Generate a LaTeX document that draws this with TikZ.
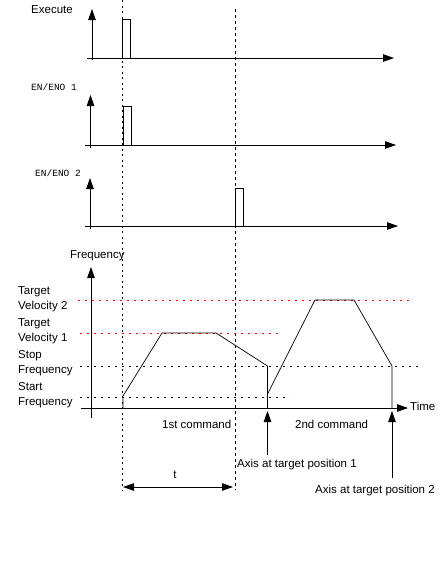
\documentclass[tikz,border=0pt]{standalone}
\usepackage{fontspec}
\setmainfont{Liberation Sans}
\newfontfamily\enofont{Liberation Mono}
\usetikzlibrary{arrows.meta}
\definecolor{axis-ink}{HTML}{000000}
\definecolor{target-red}{HTML}{FF0000}
\tikzset{
  sig-axis/.style={-{Triangle[length=11pt,width=7.5pt]}, line width=0.8pt, draw=axis-ink},
  sig-pulse/.style={line width=0.8pt, draw=axis-ink},
  sig-label/.style={inner sep=0pt, anchor=base west, font=\fontsize{11.5}{15}\selectfont},
  eno-label/.style={inner sep=0pt, anchor=base west, font=\enofont\fontsize{9.5}{11}\selectfont},
  level-label/.style={inner sep=0pt, anchor=north west, align=left, font=\fontsize{11.5}{15}\selectfont},
  guide-dotted/.style={line width=0.7pt, dash pattern=on 2pt off 3.5pt},
  guide-dashed/.style={line width=0.7pt, dash pattern=on 3pt off 3pt},
  level-black/.style={line width=0.7pt, dash pattern=on 2pt off 5pt},
  level-red/.style={line width=0.9pt, dash pattern=on 2pt off 5pt, draw=target-red},
  ramp/.style={line width=0.7pt, line join=miter},
  span-arrow/.style={{Triangle[length=11pt,width=7.5pt]}-{Triangle[length=11pt,width=7.5pt]}, line width=0.8pt}
}

\begin{document}
\begin{tikzpicture}[x=1pt, y=-1pt]
  \useasboundingbox (0,0) rectangle (440,565);

  % command instants
  \coordinate (cmd1-top) at (122,0);
  \coordinate (cmd1-bot) at (122,490);
  \coordinate (cmd2-top) at (235,9);
  \coordinate (cmd2-bot) at (235,490);
  \draw[guide-dotted] (cmd1-top) -- (cmd1-bot);
  \draw[guide-dashed] (cmd2-top) -- (cmd2-bot);

  % Execute
  \node[sig-label] (exec) at (31,13) {Execute};
  \coordinate (exec-o) at (92,60);
  \coordinate (exec-y) at (92,9);
  \coordinate (exec-l) at (87,58);
  \coordinate (exec-r) at (394,58);
  \draw[sig-axis] (exec-o) -- (exec-y);
  \draw[sig-axis] (exec-l) -- (exec-r);
  \draw[sig-pulse] (122,58) |- (130,19) -- (130,58);

  % EN/ENO 1
  \node[eno-label] (eno1) at (31,90) {EN/ENO 1};
  \coordinate (eno1-o) at (90.5,148);
  \coordinate (eno1-y) at (90.5,95);
  \coordinate (eno1-l) at (85,145);
  \coordinate (eno1-r) at (396,145);
  \draw[sig-axis] (eno1-o) -- (eno1-y);
  \draw[sig-axis] (eno1-l) -- (eno1-r);
  \draw[sig-pulse] (123,145) |- (131,106) -- (131,145);

  % EN/ENO 2
  \node[eno-label] (eno2) at (35,176) {EN/ENO 2};
  \coordinate (eno2-o) at (90,229);
  \coordinate (eno2-y) at (90,178);
  \coordinate (eno2-l) at (85,226);
  \coordinate (eno2-r) at (398,226);
  \draw[sig-axis] (eno2-o) -- (eno2-y);
  \draw[sig-axis] (eno2-l) -- (eno2-r);
  \draw[sig-pulse] (235,226) |- (243,188) -- (243,226);

  % Frequency profile
  \node[sig-label] (freq) at (70,258) {Frequency};
  \node[sig-label] (time) at (410,410.5) {Time};
  \coordinate (freq-o) at (91,418);
  \coordinate (freq-y) at (91,267);
  \coordinate (freq-l) at (81,408);
  \coordinate (freq-r) at (408,408);
  \draw[sig-axis] (freq-o) -- (freq-y);
  \draw[sig-axis] (freq-l) -- (freq-r);

  \node[level-label] (tv2)   at (18,286) {Target\\Velocity 2};
  \node[level-label] (tv1)   at (18,318) {Target\\Velocity 1};
  \node[level-label] (stopf) at (18,350) {Stop\\Frequency};
  \node[level-label] (startf) at (18,382) {Start\\Frequency};

  \draw[level-red]   (78,300.5) -- (410,300.5);
  \draw[level-red]   (80,333.5) -- (283,333.5);
  \draw[level-black] (80,366) -- (418,366);
  \draw[level-black] (80,397) -- (290,397);

  \draw[ramp] (123,408) -- (123,396) -- (162,333) -- (216,333)
    -- (267.5,366) -- (267.5,408);
  \draw[ramp] (267.5,394) -- (315,300) -- (354,300) -- (392,366) -- (392,408);

  \node[sig-label] (cmd1) at (162,428) {1st command};
  \node[sig-label] (cmd2) at (295,428) {2nd command};

  % axis arrival
  \node[sig-label] (pos1) at (237,467) {Axis at target position 1};
  \node[sig-label] (pos2) at (315,493) {Axis at target position 2};
  \coordinate (pos1-foot) at (267.5,455);
  \coordinate (pos1-tip)  at (267.5,411);
  \coordinate (pos2-foot) at (392,478);
  \coordinate (pos2-tip)  at (392,411);
  \draw[sig-axis] (pos1-foot) -- (pos1-tip);
  \draw[sig-axis] (pos2-foot) -- (pos2-tip);

  % duration t
  \coordinate (t-left)  at (123,487);
  \coordinate (t-right) at (233,487);
  \draw[span-arrow] (t-left) -- (t-right);
  \node[sig-label, anchor=base] (tlab) at (175,478) {t};
\end{tikzpicture}
\end{document}
